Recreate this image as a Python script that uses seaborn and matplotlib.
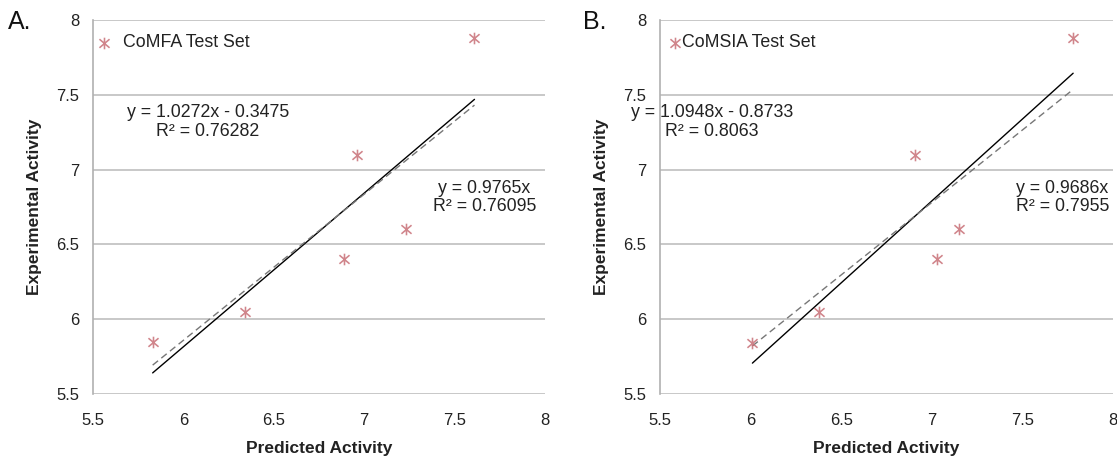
import matplotlib
matplotlib.use("Agg")
import matplotlib.pyplot as plt
from matplotlib.path import Path
import seaborn as sns
import numpy as np
import pandas as pd

# ---- data ----
exp_activity = [5.85, 6.05, 6.40, 7.10, 6.60, 7.88]
comfa_pred = [5.83, 6.34, 6.89, 6.96, 7.23, 7.61]
comsia_exp = [5.84, 6.05, 6.40, 7.10, 6.60, 7.88]
comsia_pred = [6.01, 6.38, 7.03, 6.91, 7.15, 7.78]

comfa_fit = (1.0272, -0.3475)
comfa_origin = 0.9765
comsia_fit = (1.0948, -0.8733)
comsia_origin = 0.9686

comfa_labels = ["y = 1.0272x - 0.3475\nR² = 0.76282", "y = 0.9765x\nR² = 0.76095"]
comsia_labels = ["y = 1.0948x - 0.8733\nR² = 0.8063", "y = 0.9686x\nR² = 0.7955"]
ticks = [5.5, 6.0, 6.5, 7.0, 7.5, 8.0]

sns.set_theme(style="white")
plt.rcParams['font.family'] = ['Liberation Sans', 'DejaVu Sans']

MARK = "#c87077"
STAR = Path([(-1, -0.85), (1, 0.85), (-1, 0.85), (1, -0.85), (0, -1.15), (0, 1.15)],
            [Path.MOVETO, Path.LINETO, Path.MOVETO, Path.LINETO, Path.MOVETO, Path.LINETO])

fig = plt.figure(figsize=(11.17, 4.59), dpi=100)
axA = fig.add_axes([93/1117, 65/459, 452/1117, 374/459])
axB = fig.add_axes([660/1117, 65/459, 453/1117, 374/459])


def panel(ax, px, py, fit, origin, labels, name, pos1, pos2, legx, legpad):
    df = pd.DataFrame({"Predicted Activity": px, "Experimental Activity": py})
    sns.scatterplot(data=df, x="Predicted Activity", y="Experimental Activity", ax=ax,
                    marker=STAR, s=70, color=MARK, edgecolor=MARK, linewidth=1.15,
                    alpha=0.85, label=name, zorder=4)
    xr = np.array([min(px), max(px)])
    sns.lineplot(x=xr, y=fit[0] * xr + fit[1], ax=ax, color="black", lw=1.0, zorder=3)
    sns.lineplot(x=xr, y=origin * xr, ax=ax, color="#777777", lw=1.0,
                 linestyle=(0, (5, 3)), zorder=3)
    ax.set_xlim(5.5, 8)
    ax.set_ylim(5.5, 8)
    ax.set_xticks(ticks)
    ax.set_yticks(ticks)
    ax.set_xticklabels([f"{t:g}" for t in ticks])
    ax.set_yticklabels([f"{t:g}" for t in ticks])
    ax.grid(axis="y", color="#c4c4c4", lw=1.3)
    ax.grid(axis="x", visible=False)
    for s in ["top", "right", "bottom"]:
        ax.spines[s].set_visible(False)
    ax.spines["left"].set_color("#b0b0b0")
    ax.spines["left"].set_linewidth(1.2)
    ax.tick_params(axis="both", length=0, labelsize=12, colors="#222222")
    ax.tick_params(axis="x", pad=14)
    ax.tick_params(axis="y", pad=10)
    ax.set_xlabel("Predicted Activity", fontsize=12.5, fontweight="bold", color="#222222", labelpad=9)
    ax.set_ylabel("Experimental Activity", fontsize=12.5, fontweight="bold", color="#222222", labelpad=10)
    ax.text(pos1[0], pos1[1], labels[0], ha="center", va="center", fontsize=12.8,
            color="#222222", linespacing=1.12)
    ax.text(pos2[0], pos2[1], labels[1], ha="center", va="center", fontsize=12.8,
            color="#222222", linespacing=1.12)
    leg = ax.legend(loc="upper left", frameon=False, fontsize=12.8, handletextpad=legpad,
                    borderaxespad=0.4, handlelength=1.0, bbox_to_anchor=(legx, 1.0))
    for t in leg.get_texts():
        t.set_color("#222222")


panel(axA, comfa_pred, exp_activity, comfa_fit, comfa_origin, comfa_labels,
      "CoMFA Test Set", (6.135, 7.317), (7.666, 6.813), -0.027, 0.6)
panel(axB, comsia_pred, comsia_exp, comsia_fit, comsia_origin, comsia_labels,
      "CoMSIA Test Set", (5.787, 7.32), (7.72, 6.813), -0.019, -0.1)

fig.text(8/1117, 1 - 22/459, "A.", fontsize=18, va="center", ha="left", color="#111111")
fig.text(583/1117, 1 - 22/459, "B.", fontsize=18, va="center", ha="left", color="#111111")

fig.savefig("out.png", dpi=100, facecolor="white")
